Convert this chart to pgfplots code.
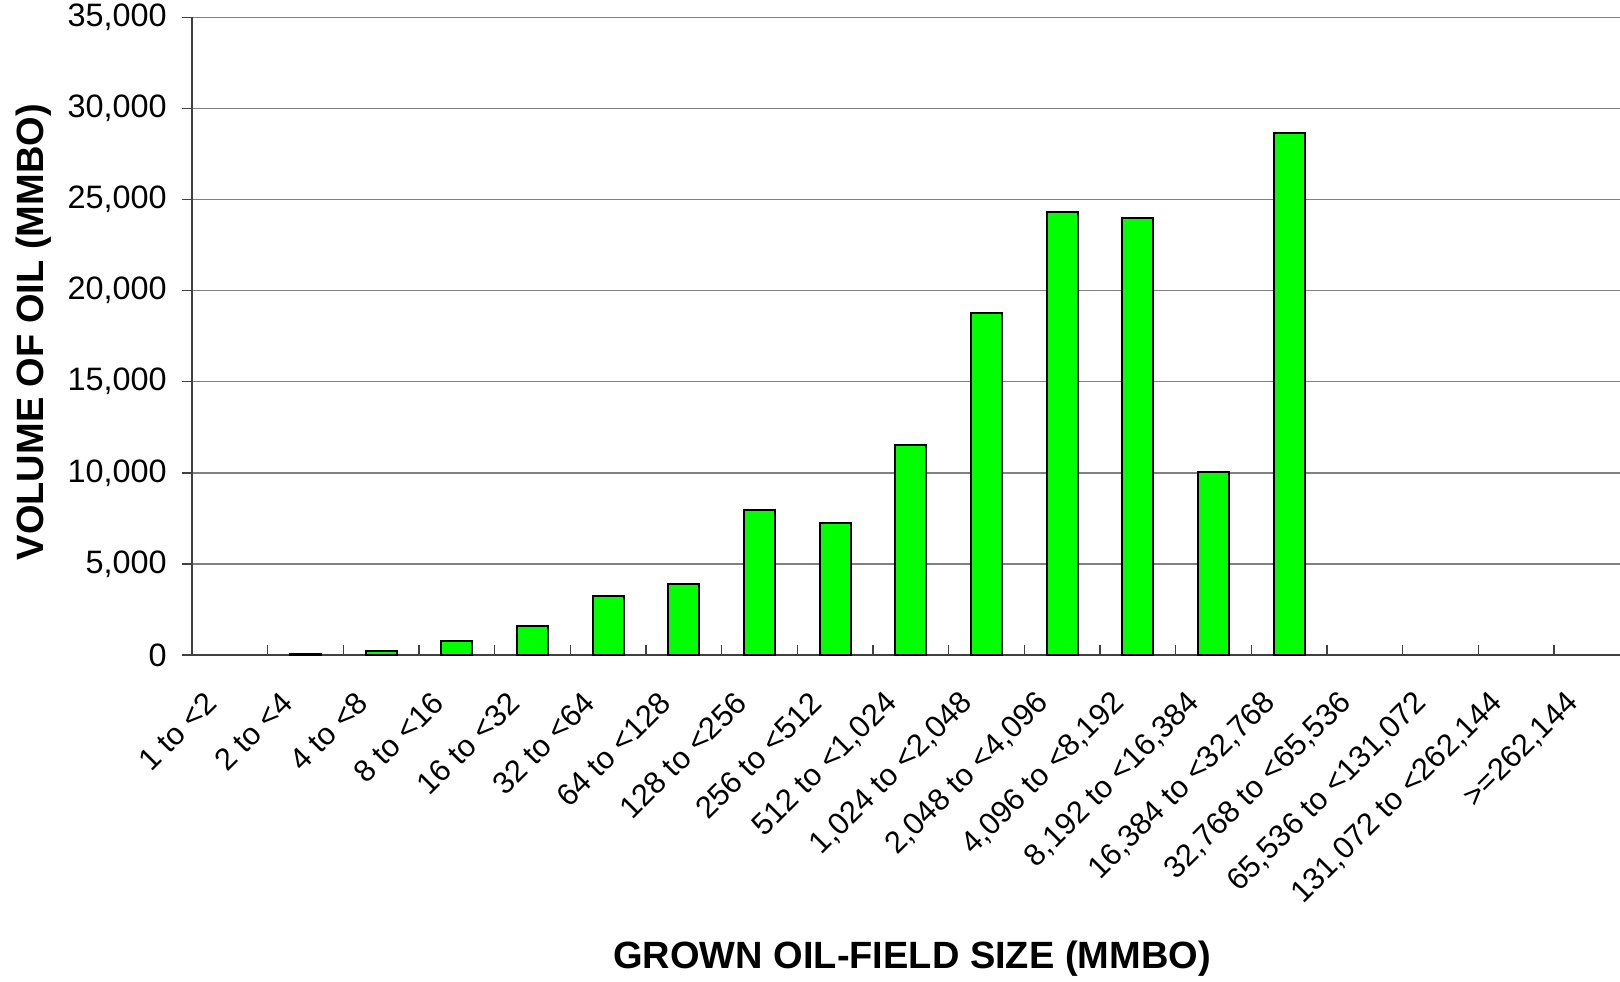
\documentclass[border=0pt]{standalone}
\usepackage{pgfplots}
\pgfplotsset{compat=1.18}
\usepackage{fontspec}
\setmainfont{Liberation Sans}
\definecolor{barg}{HTML}{00FF00}
\definecolor{gridg}{HTML}{808080}
\definecolor{axg}{HTML}{404040}
\begin{document}
\begin{tikzpicture}
\useasboundingbox (0,0) rectangle (810pt,490.5pt);
\begin{axis}[
  at={(96pt,163pt)}, anchor=south west,
  width=714pt, height=318.85pt, scale only axis,
  xmin=-0.5, xmax=18.374, ymin=0, ymax=35000,
  axis x line*=bottom, axis y line*=left,
  axis line style={axg, line width=0.7pt},
  ytick={0,5000,...,35000},
  scaled y ticks=false,
  /pgf/number format/1000 sep={,},
  /pgf/number format/assume math mode=true,
  ymajorgrids, grid style={gridg, line width=0.7pt},
  tick align=outside,
  major tick length=5pt, minor tick length=5pt,
  tick style={axg, line width=0.7pt},
  xtick={0,...,18},
  minor xtick={0.5,1.5,...,17.5},
  major x tick style={draw=none},
  minor x tick style={axg, line width=0.7pt, yshift=5pt},
  xticklabels={{1 to <2},{2 to <4},{4 to <8},{8 to <16},{16 to <32},{32 to <64},{64 to <128},{128 to <256},{256 to <512},{512 to <1,024},{1,024 to <2,048},{2,048 to <4,096},{4,096 to <8,192},{8,192 to <16,384},{16,384 to <32,768},{32,768 to <65,536},{65,536 to <131,072},{131,072 to <262,144},{>=262,144}},
  yticklabel style={font=\fontsize{16.2}{19}\selectfont, inner sep=0pt, xshift=-7.5pt},
  xticklabel style={font=\fontsize{15.4}{18}\selectfont, xshift=-9.2pt, yshift=-16.2pt, rotate=45, anchor=east, inner sep=0pt},
  every axis x label/.style={at={(axis description cs:0.5,0)}, anchor=center, xshift=3pt, yshift=-151.8pt},
  every axis y label/.style={at={(axis description cs:0,0.5)}, xshift=-79pt, yshift=2pt, rotate=90, anchor=center},
  label style={font=\bfseries\fontsize{19}{22}\selectfont},
  xlabel={GROWN OIL-FIELD SIZE (MMBO)},
  ylabel={VOLUME OF OIL (MMBO)},
  ybar, bar width=15.5pt,
]
\addplot[fill=barg, draw=black, line width=1pt] coordinates {
  (1,70) (2,230) (3,760) (4,1600) (5,3240) (6,3880) (7,7980) (8,7230)
  (9,11500) (10,18760) (11,24300) (12,24000) (13,10020) (14,28640)
};
\end{axis}
\end{tikzpicture}
\end{document}
